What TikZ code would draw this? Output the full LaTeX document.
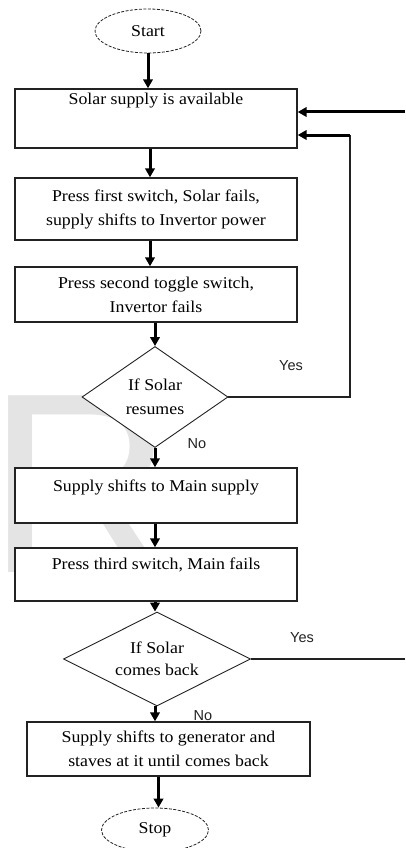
\documentclass[tikz,border=0pt]{standalone}
\usepackage{fontspec}
\setmainfont{Liberation Serif}[FakeStretch=1.08]
\newfontfamily\lblfont{Liberation Sans}
\usetikzlibrary{shapes.geometric,arrows.meta,calc}
\definecolor{edge}{HTML}{222222}
\definecolor{wmgray}{HTML}{E4E4E4}
\tikzset{
  boxtext/.style={font=\fontsize{16.5}{24}\selectfont},
  stepbox/.style={draw=edge, line width=1.4pt, fill=white, rectangle, minimum width=282pt,
    inner sep=0pt, align=center, boxtext},
  decision/.style={draw=edge, line width=0.9pt, fill=white, diamond, inner sep=0pt,
    align=center, boxtext},
  terminal/.style={draw=edge, line width=0.8pt, dash pattern=on 3pt off 1.5pt, fill=white,
    ellipse, inner sep=0pt, boxtext},
  lab/.style={font=\lblfont\fontsize{14.5}{16}\selectfont, text=edge, inner sep=0pt},
  flowarrow/.style={line width=3pt, draw=black, -{Triangle[length=9pt,width=9.5pt]}},
  yesline/.style={line width=1.2pt, draw=edge},
}
\begin{document}
\begin{tikzpicture}[x=1pt,y=-1pt]
\useasboundingbox (0,0) rectangle (405,848);
% faint watermark letter
\node[anchor=base west, inner sep=0pt, text=wmgray, font=\lblfont\fontsize{257}{257}\selectfont] (wm) at (-13,572) {R};

% nodes
\node[terminal, minimum width=106pt, minimum height=44pt] (start) at (148,31) {Start};
\node[stepbox, text height=16pt, text depth=43pt] (b1) at (156,118.5) {Solar supply is available};
\node[stepbox, minimum height=62pt] (b2) at (156,209) {Press first switch, Solar fails,\\supply shifts to Invertor power};
\node[stepbox, minimum height=55pt] (b3) at (156,294.5) {Press second toggle switch,\\Invertor fails};
\node[decision, aspect=1.45, minimum width=146pt, minimum height=101pt] (d1) at (155,397) {If Solar\\resumes};
\node[stepbox, text height=23pt, text depth=32pt] (b4) at (156,495.5) {Supply shifts to Main supply};
\node[stepbox, text height=21pt, text depth=32pt] (b5) at (156,574.5) {Press third switch, Main fails};
\node[decision, aspect=2, minimum width=187pt, minimum height=94pt, font=\fontsize{16.5}{22}\selectfont] (d2) at (157,659) {If Solar\\comes back};
\node[stepbox, minimum width=283pt, minimum height=54pt] (b6) at (168.5,749) {Supply shifts to generator and\\staves at it until comes back};
\node[terminal, minimum width=107pt, minimum height=44pt] (stop) at (155,830) {Stop};

% labels
\node[lab] (y1) at (291,366) {Yes};
\node[lab] (n1) at (197,444) {No};
\node[lab] (y2) at (302,638) {Yes};
\node[lab] (n2) at (203,716) {No};

% free ends
\coordinate (r1) at (405,112);
\coordinate (r2) at (405,659);
\coordinate (c1) at (350,397);
\coordinate (c2) at (350,135);

% connectors
\draw[flowarrow] (start.south) -- (start.south |- b1.north);
\draw[flowarrow] ([xshift=-6pt]b1.south) -- ([xshift=-6pt]b2.north);
\draw[flowarrow] ([xshift=-6pt]b2.south) -- ([xshift=-6pt]b3.north);
\draw[flowarrow] (b3.south -| d1.north) -- (d1.north);
\draw[flowarrow] (d1.south) -- (d1.south |- b4.north);
\draw[flowarrow] (b4.south -| d1.south) -- (b5.north -| d1.south);
\draw[flowarrow] (b5.south -| d1.south) -- (d1.south |- d2.north);
\draw[flowarrow] (d1.south |- d2.south) -- (d1.south |- b6.north);
\draw[flowarrow] ([xshift=-10pt]b6.south) -- ([xshift=-10pt]b6.south |- stop.north);

\draw[yesline] (d1.east) -- (c1) -- (c2);
\draw[flowarrow] (c2) -- (c2 -| b1.east);
\draw[flowarrow] (r1) -- (r1 -| b1.east);
\draw[yesline] (d2.east) -- (r2);
\end{tikzpicture}
\end{document}
